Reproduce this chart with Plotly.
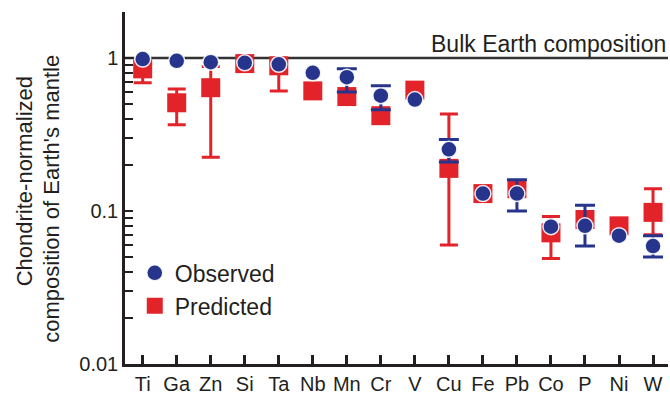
import math
import plotly.graph_objects as go

elements = ["Ti", "Ga", "Zn", "Si", "Ta", "Nb", "Mn", "Cr", "V", "Cu", "Fe", "Pb", "Co", "P", "Ni", "W"]

observed = [0.985, 0.96, 0.94, 0.93, 0.91, 0.80, 0.75, 0.567, 0.535, 0.253, 0.13, 0.13, 0.079, 0.080, 0.069, 0.059]
obs_hi = [None, None, None, None, None, None, 0.85, 0.66, None, 0.294, None, 0.16, None, 0.109, None, 0.069]
obs_lo = [None, None, None, None, None, None, 0.60, 0.46, None, 0.209, None, 0.10, None, 0.059, None, 0.050]

predicted = [0.85, 0.51, 0.64, 0.92, 0.89, 0.61, 0.56, 0.42, 0.617, 0.19, 0.13, 0.14, 0.072, 0.088, 0.080, 0.098]
pred_hi = [0.97, 0.628, 0.88, None, 0.96, None, None, None, None, 0.43, None, None, 0.092, None, None, 0.14]
pred_lo = [0.69, 0.367, 0.225, None, 0.61, None, None, None, None, 0.06, None, None, 0.049, None, None, 0.070]

bulk_earth = 1.0

y_tickvals = [0.01, 0.1, 1]
y_ticktext = ["0.01", "0.1", "1"]

NAVY = "#27348b"
RED = "#e3232a"
INK = "#231f20"
FONT = "Liberation Sans, Arial, sans-serif"


def err_subset(vals, hi, lo):
    idx = [i for i in range(len(vals)) if hi[i] is not None]
    return ([elements[i] for i in idx],
            [vals[i] for i in idx],
            [hi[i] - vals[i] for i in idx],
            [vals[i] - lo[i] for i in idx])


fig = go.Figure()

# predicted error bars
ex, ey, eplus, eminus = err_subset(predicted, pred_hi, pred_lo)
fig.add_trace(go.Scatter(
    x=ex, y=ey, mode="markers", marker=dict(size=1, opacity=0),
    error_y=dict(type="data", array=eplus, arrayminus=eminus, symmetric=False,
                 color=RED, thickness=3, width=9),
    showlegend=False, hoverinfo="skip"))

fig.add_trace(go.Scatter(
    x=elements, y=predicted, mode="markers", name="Predicted",
    marker=dict(symbol="square", size=19, color=RED, line=dict(width=0))))

# observed error bars
ex, ey, eplus, eminus = err_subset(observed, obs_hi, obs_lo)
fig.add_trace(go.Scatter(
    x=ex, y=ey, mode="markers", marker=dict(size=1, opacity=0),
    error_y=dict(type="data", array=eplus, arrayminus=eminus, symmetric=False,
                 color=NAVY, thickness=3, width=10),
    showlegend=False, hoverinfo="skip"))

fig.add_trace(go.Scatter(
    x=elements, y=observed, mode="markers", name="Observed",
    marker=dict(symbol="circle", size=16, color=NAVY,
                line=dict(width=1.5, color="rgba(255,255,255,0.9)"))))

# minor ticks 2..9 in each decade
minor_vals = [m * d for d in (0.01, 0.1, 1) for m in range(2, 10) if m * d <= 2.0001]

fig.update_layout(
    width=670, height=397,
    margin=dict(l=125, r=2, t=12, b=23),
    paper_bgcolor="white", plot_bgcolor="white",
    font=dict(family=FONT, color=INK),
    showlegend=True,
    legend=dict(x=0.018, y=0.32, xanchor="left", yanchor="top",
                traceorder="reversed", font=dict(size=23, color=INK),
                bgcolor="rgba(0,0,0,0)", itemwidth=30, tracegroupgap=0),
    xaxis=dict(
        type="category", categoryorder="array", categoryarray=elements,
        range=[-0.52, 15.44],
        showline=True, linewidth=2.5, linecolor=INK,
        ticks="inside", ticklen=9, tickwidth=2.5, tickcolor=INK,
        tickfont=dict(size=20, color=INK),
        showgrid=False, zeroline=False),
    yaxis=dict(
        type="log", range=[-2, 0.301],
        showline=True, linewidth=2.5, linecolor=INK,
        tickmode="array", tickvals=y_tickvals, ticktext=y_ticktext,
        ticks="inside", ticklen=8, tickwidth=2, tickcolor=INK,
        tickfont=dict(size=20, color=INK),
        minor=dict(tickmode="array", tickvals=minor_vals, ticks="inside",
                   ticklen=8, tickwidth=2, tickcolor=INK, showgrid=False),
        showgrid=False, zeroline=False),
)

# y-axis title, two separately placed lines
fig.add_annotation(text="Chondrite-normalized", textangle=-90, xref="paper", x=-0.186,
                   yref="paper", y=0.519, showarrow=False, xanchor="center", yanchor="middle",
                   font=dict(size=22, color=INK))
fig.add_annotation(text="composition of Earth's mantle", textangle=-90, xref="paper", x=-0.1344,
                   yref="paper", y=0.4696, showarrow=False, xanchor="center", yanchor="middle",
                   font=dict(size=22, color=INK))

# bulk Earth reference line (shapes on log axes take data values)
fig.add_shape(type="line", xref="paper", x0=0, x1=1, yref="y", y0=bulk_earth, y1=bulk_earth,
              line=dict(color="#333333", width=2.5), layer="below")
fig.add_annotation(text="Bulk Earth composition", xref="paper", x=1.0, xanchor="right",
                   yref="y", y=math.log10(bulk_earth), yanchor="bottom", yshift=-1,
                   showarrow=False, font=dict(size=23, color=INK))

fig.write_html("out.html")
